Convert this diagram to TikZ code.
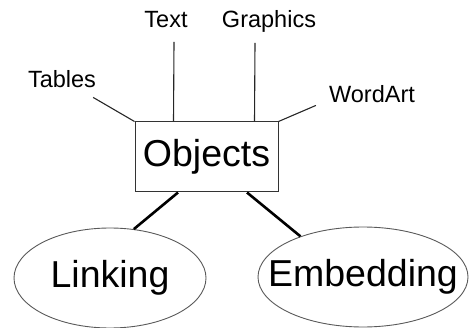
\documentclass[tikz,border=0pt]{standalone}
\usepackage{fontspec}
\setmainfont{Liberation Sans}
\usetikzlibrary{shapes.geometric}

\begin{document}
\begin{tikzpicture}[
    x=1pt, y=-1pt,
    % Define styles for the parts
    small/.style={font=\fontsize{23.5}{24}\selectfont, inner sep=0pt, anchor=base},
    big/.style={font=\fontsize{37.5}{38}\selectfont},
    box/.style={rectangle, draw=black!80, line width=1pt, minimum width=143pt, minimum height=70pt, inner sep=0pt},
    oval/.style={ellipse, draw=black!65, line width=0.9pt, minimum height=100pt, inner sep=0pt},
    thinline/.style={draw=black!85, line width=1.1pt},
    thickline/.style={draw=black, line width=2.6pt}
]
\useasboundingbox (0,0) rectangle (470,328);

% ==========================================
% Center: the object box
% ==========================================
\node[box, big] (objects) at (206.5,157) {Objects};

% ==========================================
% Top: kinds of objects
% ==========================================
\node[small] (tables) at (62,88) {Tables};
\node[small] (txt) at (166,28) {Text};
\node[small] (graphics) at (269,28) {Graphics};
\node[small] (wordart) at (372,103) {WordArt};

\draw[thinline] ([xshift=-3pt,yshift=-9pt]tables.south east) -- (objects.north west);
\draw[thinline] ([xshift=8pt,yshift=-14pt]txt.base) -- ([xshift=39pt]objects.north west);
\draw[thinline] ([xshift=-14pt,yshift=-15pt]graphics.base) -- ([xshift=120pt]objects.north west);
\draw[thinline] ([xshift=-13pt,yshift=-2pt]wordart.south west) -- (objects.north east);

% ==========================================
% Bottom: linking and embedding
% ==========================================
\node[oval, minimum width=192pt, label={[big]center:Linking}] (linking) at (110,278) {};
\node[oval, minimum width=210pt, label={[big]center:Embedding}] (embedding) at (363,277) {};

\draw[thickline] ([xshift=-28.5pt]objects.south) -- (linking.64);
\draw[thickline] ([xshift=40.5pt]objects.south) -- (embedding.147);

\end{tikzpicture}
\end{document}
